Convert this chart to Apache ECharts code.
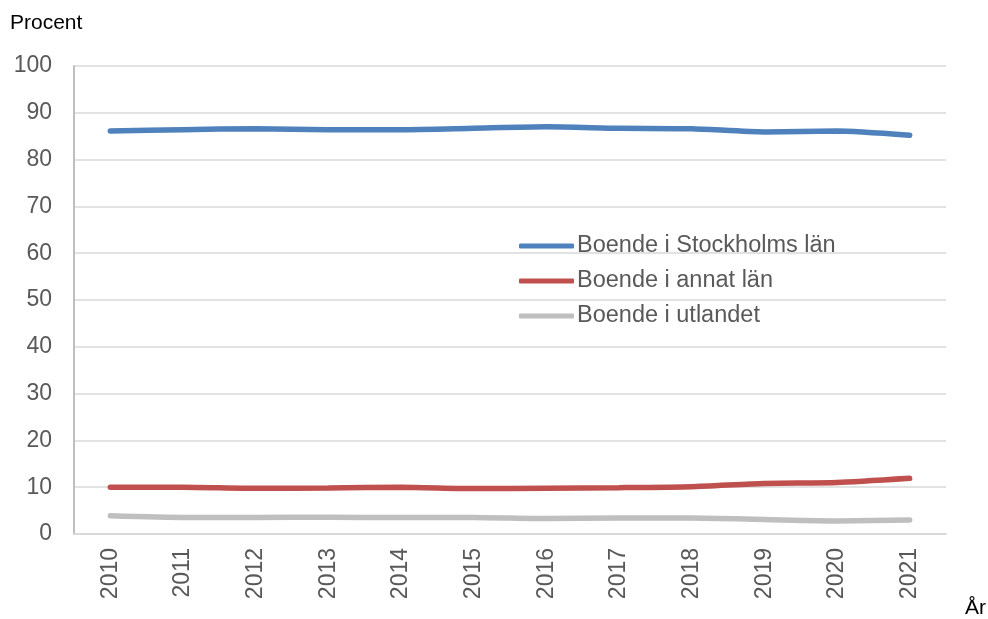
<!DOCTYPE html>
<html>
<head>
<meta charset="utf-8">
<script src="https://cdn.jsdelivr.net/npm/echarts@6/dist/echarts.min.js"></script>
<style>
  html, body { margin: 0; padding: 0; background: #fff; }
  #main { width: 988px; height: 619px; }
</style>
</head>
<body>
<div id="main"></div>
<script>
var years = ['2010', '2011', '2012', '2013', '2014', '2015', '2016', '2017', '2018', '2019', '2020', '2021'];
var stockholm = [86.1, 86.4, 86.6, 86.4, 86.4, 86.7, 87.0, 86.7, 86.6, 85.9, 86.1, 85.2];
var annatLan = [10.0, 10.0, 9.75, 9.85, 10.0, 9.7, 9.8, 9.9, 10.1, 10.8, 11.0, 11.9];
var utlandet = [3.9, 3.55, 3.55, 3.6, 3.5, 3.55, 3.3, 3.4, 3.4, 3.1, 2.8, 3.0];

var font = 'Liberation Sans, Arial, sans-serif';

var myChart = echarts.init(document.getElementById('main'));

function line(name, data, color) {
    return {
        name: name,
        type: 'line',
        data: data,
        symbol: 'none',
        smooth: 0.2,
        lineStyle: { width: 5.5, color: color, cap: 'round' },
        itemStyle: { color: color }
    };
}

var option = {
    animation: false,
    textStyle: { fontFamily: font },
    grid: { left: 74, right: 42, top: 66, bottom: 85 },
    legend: {
        orient: 'vertical',
        left: 514,
        top: 228,
        icon: 'roundRect',
        itemWidth: 55,
        itemHeight: 5,
        itemGap: 9,
        textStyle: { fontSize: 23.5, lineHeight: 26, color: '#595959', fontFamily: font, padding: [0, 0, 0, -2] },
        data: ['Boende i Stockholms län', 'Boende i annat län', 'Boende i utlandet']
    },
    xAxis: {
        type: 'category',
        data: years,
        boundaryGap: true,
        axisLine: { lineStyle: { color: '#d9d9d9', width: 2 } },
        axisTick: { inside: true, length: 7, lineStyle: { color: '#d9d9d9', width: 2 } },
        axisLabel: { rotate: 90, fontSize: 23, color: '#595959', margin: 14, fontFamily: font }
    },
    yAxis: {
        type: 'value',
        min: 0,
        max: 100,
        interval: 10,
        axisLine: { show: true, lineStyle: { color: '#bfbfbf', width: 2 } },
        axisTick: { show: false },
        splitLine: { lineStyle: { color: '#d9d9d9', width: 1.5 } },
        axisLabel: { fontSize: 23, color: '#595959', margin: 22, fontFamily: font }
    },
    graphic: [
        { type: 'text', left: 10, top: 13, style: { text: 'Procent', fontSize: 21, fill: '#000', fontFamily: font } },
        { type: 'text', left: 965, top: 598, style: { text: 'År', fontSize: 21, fill: '#000', fontFamily: font } }
    ],
    series: [
        line('Boende i Stockholms län', stockholm, '#4f81bd'),
        line('Boende i annat län', annatLan, '#c0504d'),
        line('Boende i utlandet', utlandet, '#bfbfbf')
    ]
};

myChart.setOption(option);
</script>
</body>
</html>
